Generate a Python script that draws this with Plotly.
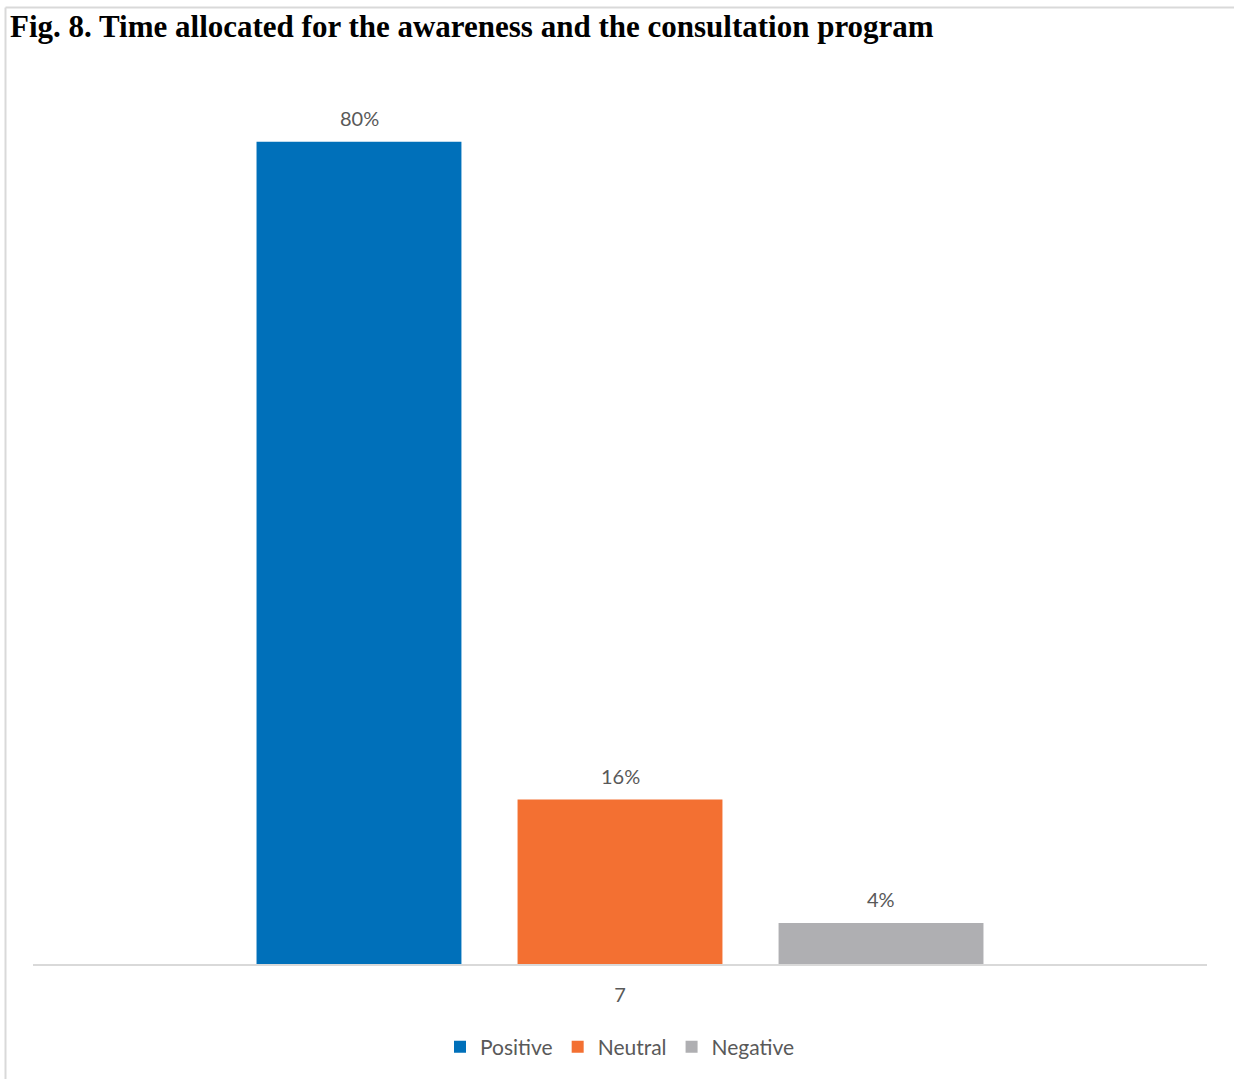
import plotly.graph_objects as go

categories = ["7"]
series_names = ["Positive", "Neutral", "Negative"]
values = [80, 16, 4]
colors = ["#0070BA", "#F37032", "#AFAFB2"]

W, H = 1234, 1079
ml, mr, mt, mb = 33, 27, 39, 115
FONT = "Lato, Open Sans, sans-serif"

fig = go.Figure()
for name, v, c in zip(series_names, values, colors):
    fig.add_trace(go.Bar(
        x=categories, y=[v], name=name, marker=dict(color=c, line=dict(width=0)),
    ))

pw = W - ml - mr
ph = H - mt - mb

def px_x(px):
    return (px - ml) / pw

def px_y(py):
    return (H - mb - py) / ph

annotations = [dict(
    text="<b>Fig. 8. Time allocated for the awareness and the consultation program</b>",
    xref="paper", yref="paper", x=px_x(8), y=px_y(27), xanchor="left", yanchor="middle",
    showarrow=False,
    font=dict(family="Liberation Serif, Times New Roman, serif", size=31, color="#000000"),
)]
slot = 261
for i, v in enumerate(values):
    annotations.append(dict(
        text=f"{v}%", xref="x", yref="y", x=0, y=v,
        xshift=(i - 1) * slot, yshift=24, xanchor="center", yanchor="middle",
        showarrow=False, font=dict(family=FONT, size=20, color="#595959"),
    ))

fig.update_layout(
    width=W, height=H,
    margin=dict(l=ml, r=mr, t=mt, b=mb),
    paper_bgcolor="white", plot_bgcolor="white",
    barmode="group", bargap=0.333, bargroupgap=0.215,
    showlegend=True,
    legend=dict(orientation="h", x=0.5, xanchor="center", y=px_y(1047), yanchor="middle",
                font=dict(family=FONT, size=21, color="#595959"),
                itemwidth=30, traceorder="normal"),
    xaxis=dict(type="category", range=[-0.5, 0.5], showline=True, linecolor="#D9D9D9",
               linewidth=1.5, ticks="", ticklabelstandoff=12,
               tickfont=dict(family=FONT, size=20, color="#595959"),
               showgrid=False, zeroline=False),
    yaxis=dict(range=[0, 90], visible=False, showgrid=False, zeroline=False),
    annotations=annotations,
    shapes=[
        dict(type="line", xref="paper", yref="paper", x0=px_x(5.5), x1=px_x(1240), y0=px_y(7.5), y1=px_y(7.5),
             line=dict(color="#D9D9D9", width=2)),
        dict(type="line", xref="paper", yref="paper", x0=px_x(5.5), x1=px_x(5.5), y0=px_y(7.5), y1=px_y(1090),
             line=dict(color="#D9D9D9", width=2)),
    ],
)

fig.write_html("out.html")
